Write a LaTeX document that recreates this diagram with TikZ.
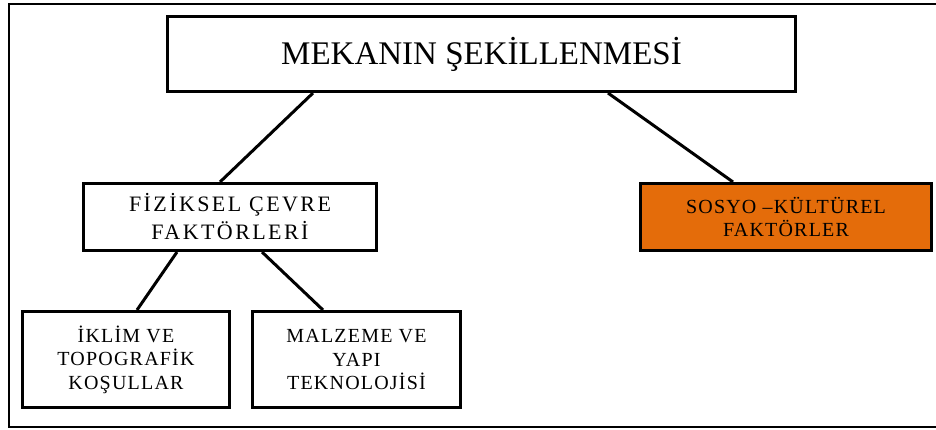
\documentclass[tikz,border=0pt]{standalone}
\usepackage{fontspec}
\setmainfont{Liberation Serif}
\newfontfamily\kutufont[LetterSpace=6]{Liberation Serif}
\newfontfamily\ortafont[LetterSpace=11]{Liberation Serif}
\usepackage{xcolor}
\usetikzlibrary{positioning}
\definecolor{turuncu}{RGB}{228,108,10}

\begin{document}
\begin{tikzpicture}[x=1pt,y=-1pt,node distance=20pt,
 kutu/.style={draw,line width=3pt,fill=white,align=center,inner sep=0pt},
 baglanti/.style={line width=3pt}]
 \useasboundingbox (0,0) rectangle (936,429);
 \draw[line width=2.8pt] (940,4) -- (9,4) -- (9,427) -- (940,427);

 \node[kutu,minimum width=628pt,minimum height=75pt,font=\fontsize{33}{38}\selectfont] (m_0) at (481.5,54) {MEKANIN ŞEKİLLENMESİ};

 \node[kutu,minimum width=293pt,minimum height=67pt,font=\ortafont\fontsize{22}{28}\selectfont] (m_10) [below right=89pt and -84pt of m_0.south west] {FİZİKSEL ÇEVRE\\FAKTÖRLERİ};
 \node[kutu,fill=turuncu,minimum width=291pt,minimum height=67pt,font=\kutufont\fontsize{20}{23}\selectfont] (m_11) [right=261pt of m_10] {SOSYO –KÜLTÜREL\\FAKTÖRLER};

 \node[kutu,minimum width=207pt,minimum height=96pt,font=\kutufont\fontsize{20}{23.5}\selectfont] (m_20) [below right=58pt and -61pt of m_10.south west] {İKLİM VE\\TOPOGRAFİK\\KOŞULLAR};
 \node[kutu,minimum width=208pt,minimum height=96pt,font=\kutufont\fontsize{20}{23.5}\selectfont] (m_21) [right=20pt of m_20] {MALZEME VE\\YAPI\\TEKNOLOJİSİ};

 \path[baglanti]
 ([xshift=147pt]m_0.south west) edge ([xshift=138pt]m_10.north west)
 ([xshift=442pt]m_0.south west) edge ([xshift=94pt]m_11.north west)
 ([xshift=95pt]m_10.south west) edge ([xshift=116pt]m_20.north west)
 ([xshift=180pt]m_10.south west) edge ([xshift=72pt]m_21.north west);
\end{tikzpicture}
\end{document}
